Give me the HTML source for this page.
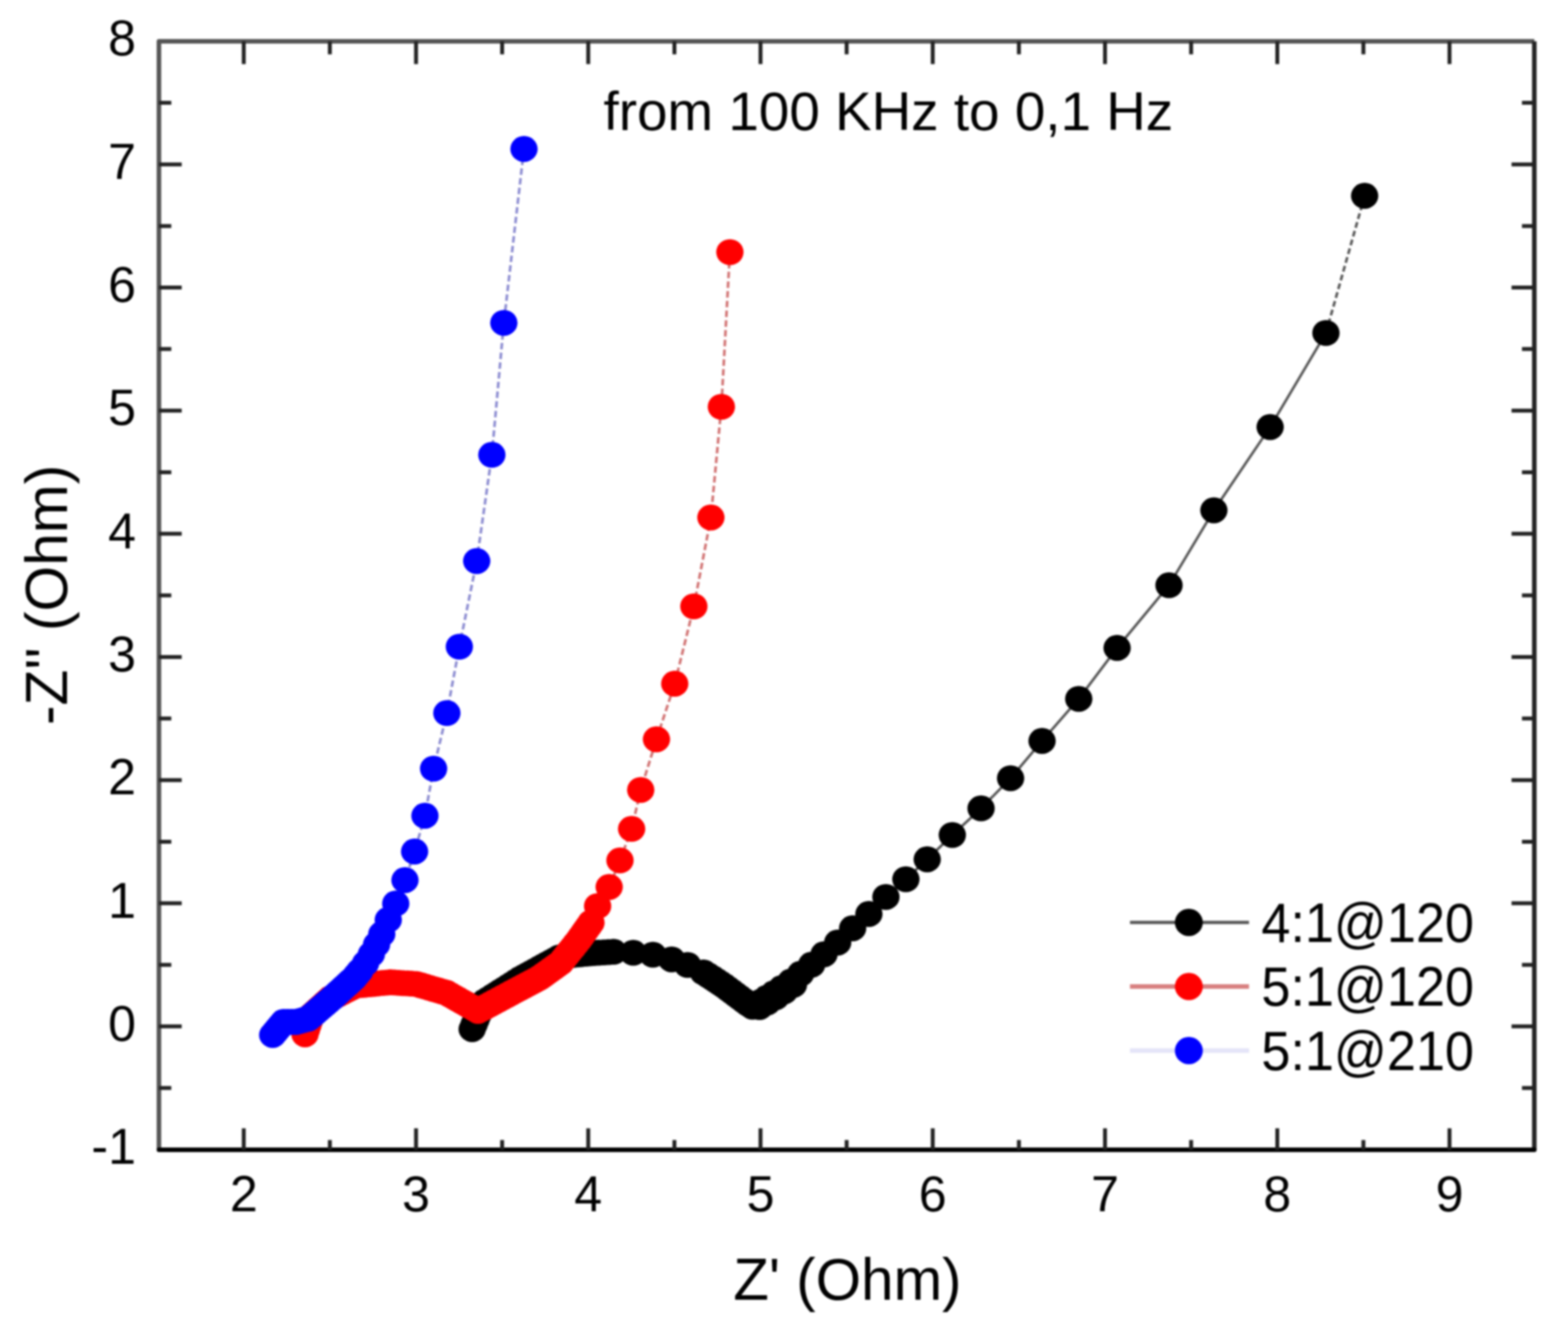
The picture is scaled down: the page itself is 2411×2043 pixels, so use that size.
<!DOCTYPE html>
<html><head><meta charset="utf-8"><title>Nyquist plot</title>
<style>html,body{margin:0;padding:0;background:#fff;}body{width:2411px;height:2043px;overflow:hidden;}svg{display:block;filter:blur(1.8px);}</style>
</head><body>
<svg width="2411" height="2043" viewBox="0 0 2411 2043" font-family="'Liberation Sans', Arial, sans-serif" fill="#000">
<rect width="2411" height="2043" fill="#fff"/>
<path d="M2098.3,301 L2038.8,511.9" fill="none" stroke="#555" stroke-width="4" stroke-dasharray="9 5"/>
<path d="M2038.8,511.9 L1953.0,656.5 L1866.5,784.5 L1797.5,899.7 L1717.7,996.0 L1658.7,1074.3 L1602.3,1139.0 L1553.9,1196.3 L1508.5,1242.7 L1464.3,1283.6 L1425.7,1321.0 L1392.9,1351.6 L1362.2,1378.8 L1336.0,1405.0 L1336.0,1405.0 L1311.0,1427.0 L1288.0,1449.0 L1267.0,1467.0 L1248.0,1483.0 L1231.0,1497.0 L1216.0,1509.0 L1202.0,1519.0 L1190.0,1527.0 L1179.0,1534.0 L1170.0,1540.0 L1162.0,1545.0 L1157.0,1547.5 L1150.0,1543.0 L1144.0,1538.5 L1138.0,1534.0 L1132.0,1529.5 L1126.0,1525.0 L1120.0,1520.5 L1114.0,1516.0 L1108.0,1512.0 L1102.0,1508.0 L1096.0,1504.0 L1089.0,1499.5 L1081.7,1494.9 L1057.2,1483.4 L1032.7,1474.8 L1003.9,1467.6 L973.7,1464.7 L943.4,1463.2" fill="none" stroke="#555" stroke-width="4" />
<g fill="#000"><ellipse cx="2098.3" cy="301.0" rx="21" ry="19.9"/><ellipse cx="2038.8" cy="511.9" rx="21" ry="19.9"/><ellipse cx="1953.0" cy="656.5" rx="21" ry="19.9"/><ellipse cx="1866.5" cy="784.5" rx="21" ry="19.9"/><ellipse cx="1797.5" cy="899.7" rx="21" ry="19.9"/><ellipse cx="1717.7" cy="996.0" rx="21" ry="19.9"/><ellipse cx="1658.7" cy="1074.3" rx="21" ry="19.9"/><ellipse cx="1602.3" cy="1139.0" rx="21" ry="19.9"/><ellipse cx="1553.9" cy="1196.3" rx="21" ry="19.9"/><ellipse cx="1508.5" cy="1242.7" rx="21" ry="19.9"/><ellipse cx="1464.3" cy="1283.6" rx="21" ry="19.9"/><ellipse cx="1425.7" cy="1321.0" rx="21" ry="19.9"/><ellipse cx="1392.9" cy="1351.6" rx="21" ry="19.9"/><ellipse cx="1362.2" cy="1378.8" rx="21" ry="19.9"/><ellipse cx="1336.0" cy="1405.0" rx="21" ry="19.9"/><ellipse cx="1311.0" cy="1427.0" rx="21" ry="19.9"/><ellipse cx="1288.0" cy="1449.0" rx="21" ry="19.9"/><ellipse cx="1267.0" cy="1467.0" rx="21" ry="19.9"/><ellipse cx="1248.0" cy="1483.0" rx="21" ry="19.9"/><ellipse cx="1231.0" cy="1497.0" rx="21" ry="19.9"/><ellipse cx="1216.0" cy="1509.0" rx="21" ry="19.9"/><ellipse cx="1202.0" cy="1519.0" rx="21" ry="19.9"/><ellipse cx="1190.0" cy="1527.0" rx="21" ry="19.9"/><ellipse cx="1179.0" cy="1534.0" rx="21" ry="19.9"/><ellipse cx="1170.0" cy="1540.0" rx="21" ry="19.9"/><ellipse cx="1162.0" cy="1545.0" rx="21" ry="19.9"/><ellipse cx="1157.0" cy="1547.5" rx="21" ry="19.9"/><ellipse cx="1150.0" cy="1543.0" rx="21" ry="19.9"/><ellipse cx="1144.0" cy="1538.5" rx="21" ry="19.9"/><ellipse cx="1138.0" cy="1534.0" rx="21" ry="19.9"/><ellipse cx="1132.0" cy="1529.5" rx="21" ry="19.9"/><ellipse cx="1126.0" cy="1525.0" rx="21" ry="19.9"/><ellipse cx="1120.0" cy="1520.5" rx="21" ry="19.9"/><ellipse cx="1114.0" cy="1516.0" rx="21" ry="19.9"/><ellipse cx="1108.0" cy="1512.0" rx="21" ry="19.9"/><ellipse cx="1102.0" cy="1508.0" rx="21" ry="19.9"/><ellipse cx="1096.0" cy="1504.0" rx="21" ry="19.9"/><ellipse cx="1089.0" cy="1499.5" rx="21" ry="19.9"/><ellipse cx="1081.7" cy="1494.9" rx="21" ry="19.9"/><ellipse cx="1057.2" cy="1483.4" rx="21" ry="19.9"/><ellipse cx="1032.7" cy="1474.8" rx="21" ry="19.9"/><ellipse cx="1003.9" cy="1467.6" rx="21" ry="19.9"/><ellipse cx="973.7" cy="1464.7" rx="21" ry="19.9"/><ellipse cx="943.4" cy="1463.2" rx="21" ry="19.9"/><ellipse cx="935.5" cy="1463.7" rx="21" ry="19.9"/><ellipse cx="927.7" cy="1464.1" rx="21" ry="19.9"/><ellipse cx="919.9" cy="1464.5" rx="21" ry="19.9"/><ellipse cx="912.0" cy="1465.0" rx="21" ry="19.9"/><ellipse cx="905.6" cy="1465.6" rx="21" ry="19.9"/><ellipse cx="899.2" cy="1466.2" rx="21" ry="19.9"/><ellipse cx="892.8" cy="1466.8" rx="21" ry="19.9"/><ellipse cx="886.4" cy="1467.4" rx="21" ry="19.9"/><ellipse cx="880.0" cy="1468.0" rx="21" ry="19.9"/><ellipse cx="873.3" cy="1469.3" rx="21" ry="19.9"/><ellipse cx="866.7" cy="1470.7" rx="21" ry="19.9"/><ellipse cx="860.0" cy="1472.0" rx="21" ry="19.9"/><ellipse cx="854.0" cy="1475.3" rx="21" ry="19.9"/><ellipse cx="848.0" cy="1478.6" rx="21" ry="19.9"/><ellipse cx="842.0" cy="1481.9" rx="21" ry="19.9"/><ellipse cx="836.0" cy="1485.2" rx="21" ry="19.9"/><ellipse cx="830.0" cy="1488.5" rx="21" ry="19.9"/><ellipse cx="824.0" cy="1491.8" rx="21" ry="19.9"/><ellipse cx="818.0" cy="1495.1" rx="21" ry="19.9"/><ellipse cx="812.0" cy="1498.4" rx="21" ry="19.9"/><ellipse cx="806.0" cy="1501.7" rx="21" ry="19.9"/><ellipse cx="800.0" cy="1505.0" rx="21" ry="19.9"/><ellipse cx="793.9" cy="1508.9" rx="21" ry="19.9"/><ellipse cx="787.8" cy="1512.8" rx="21" ry="19.9"/><ellipse cx="781.7" cy="1516.7" rx="21" ry="19.9"/><ellipse cx="775.6" cy="1520.6" rx="21" ry="19.9"/><ellipse cx="769.4" cy="1524.4" rx="21" ry="19.9"/><ellipse cx="763.3" cy="1528.3" rx="21" ry="19.9"/><ellipse cx="757.2" cy="1532.2" rx="21" ry="19.9"/><ellipse cx="751.1" cy="1536.1" rx="21" ry="19.9"/><ellipse cx="745.0" cy="1540.0" rx="21" ry="19.9"/><ellipse cx="741.7" cy="1546.7" rx="21" ry="19.9"/><ellipse cx="738.3" cy="1553.3" rx="21" ry="19.9"/><ellipse cx="735.0" cy="1560.0" rx="21" ry="19.9"/><ellipse cx="732.0" cy="1567.3" rx="21" ry="19.9"/><ellipse cx="729.0" cy="1574.7" rx="21" ry="19.9"/><ellipse cx="726.0" cy="1582.0" rx="21" ry="19.9"/><ellipse cx="1168.0" cy="1548.0" rx="21" ry="19.9"/><ellipse cx="1180.0" cy="1541.0" rx="21" ry="19.9"/><ellipse cx="1193.0" cy="1533.0" rx="21" ry="19.9"/><ellipse cx="1206.0" cy="1524.0" rx="21" ry="19.9"/><ellipse cx="1220.0" cy="1514.0" rx="21" ry="19.9"/></g>
<path d="M1122.3,387.6 L1109.2,625.4 L1093.1,795.5 L1066.9,932.1 L1037.5,1051.0 L1009.4,1136.5 L985.2,1214.3 L971.2,1274.2 L953.3,1322.7 L936.7,1363.5 L918.9,1392.9 L908.7,1418.4" fill="none" stroke="#d07070" stroke-width="4" stroke-dasharray="10 5"/>
<g fill="#ff0000"><ellipse cx="1122.3" cy="387.6" rx="21" ry="19.9"/><ellipse cx="1109.2" cy="625.4" rx="21" ry="19.9"/><ellipse cx="1093.1" cy="795.5" rx="21" ry="19.9"/><ellipse cx="1066.9" cy="932.1" rx="21" ry="19.9"/><ellipse cx="1037.5" cy="1051.0" rx="21" ry="19.9"/><ellipse cx="1009.4" cy="1136.5" rx="21" ry="19.9"/><ellipse cx="985.2" cy="1214.3" rx="21" ry="19.9"/><ellipse cx="971.2" cy="1274.2" rx="21" ry="19.9"/><ellipse cx="953.3" cy="1322.7" rx="21" ry="19.9"/><ellipse cx="936.7" cy="1363.5" rx="21" ry="19.9"/><ellipse cx="918.9" cy="1392.9" rx="21" ry="19.9"/><ellipse cx="908.7" cy="1418.4" rx="21" ry="19.9"/><ellipse cx="905.0" cy="1423.7" rx="21" ry="19.9"/><ellipse cx="901.2" cy="1429.0" rx="21" ry="19.9"/><ellipse cx="897.5" cy="1434.4" rx="21" ry="19.9"/><ellipse cx="893.7" cy="1439.7" rx="21" ry="19.9"/><ellipse cx="890.0" cy="1445.0" rx="21" ry="19.9"/><ellipse cx="885.3" cy="1450.8" rx="21" ry="19.9"/><ellipse cx="880.7" cy="1456.7" rx="21" ry="19.9"/><ellipse cx="876.0" cy="1462.5" rx="21" ry="19.9"/><ellipse cx="871.3" cy="1468.3" rx="21" ry="19.9"/><ellipse cx="866.7" cy="1474.2" rx="21" ry="19.9"/><ellipse cx="862.0" cy="1480.0" rx="21" ry="19.9"/><ellipse cx="856.7" cy="1483.8" rx="21" ry="19.9"/><ellipse cx="851.3" cy="1487.7" rx="21" ry="19.9"/><ellipse cx="846.0" cy="1491.5" rx="21" ry="19.9"/><ellipse cx="840.7" cy="1495.3" rx="21" ry="19.9"/><ellipse cx="835.3" cy="1499.2" rx="21" ry="19.9"/><ellipse cx="830.0" cy="1503.0" rx="21" ry="19.9"/><ellipse cx="823.9" cy="1506.3" rx="21" ry="19.9"/><ellipse cx="817.7" cy="1509.6" rx="21" ry="19.9"/><ellipse cx="811.6" cy="1512.9" rx="21" ry="19.9"/><ellipse cx="805.4" cy="1516.1" rx="21" ry="19.9"/><ellipse cx="799.3" cy="1519.4" rx="21" ry="19.9"/><ellipse cx="793.1" cy="1522.7" rx="21" ry="19.9"/><ellipse cx="787.0" cy="1526.0" rx="21" ry="19.9"/><ellipse cx="780.5" cy="1529.5" rx="21" ry="19.9"/><ellipse cx="774.0" cy="1533.0" rx="21" ry="19.9"/><ellipse cx="767.5" cy="1536.5" rx="21" ry="19.9"/><ellipse cx="761.0" cy="1540.0" rx="21" ry="19.9"/><ellipse cx="754.5" cy="1543.5" rx="21" ry="19.9"/><ellipse cx="748.0" cy="1547.0" rx="21" ry="19.9"/><ellipse cx="741.5" cy="1550.5" rx="21" ry="19.9"/><ellipse cx="735.0" cy="1554.0" rx="21" ry="19.9"/><ellipse cx="728.7" cy="1550.3" rx="21" ry="19.9"/><ellipse cx="722.3" cy="1546.7" rx="21" ry="19.9"/><ellipse cx="716.0" cy="1543.0" rx="21" ry="19.9"/><ellipse cx="710.0" cy="1539.6" rx="21" ry="19.9"/><ellipse cx="704.0" cy="1536.2" rx="21" ry="19.9"/><ellipse cx="698.0" cy="1532.8" rx="21" ry="19.9"/><ellipse cx="692.0" cy="1529.4" rx="21" ry="19.9"/><ellipse cx="686.0" cy="1526.0" rx="21" ry="19.9"/><ellipse cx="679.4" cy="1524.1" rx="21" ry="19.9"/><ellipse cx="672.9" cy="1522.2" rx="21" ry="19.9"/><ellipse cx="666.3" cy="1520.3" rx="21" ry="19.9"/><ellipse cx="659.7" cy="1518.3" rx="21" ry="19.9"/><ellipse cx="653.1" cy="1516.4" rx="21" ry="19.9"/><ellipse cx="646.6" cy="1514.5" rx="21" ry="19.9"/><ellipse cx="640.0" cy="1512.6" rx="21" ry="19.9"/><ellipse cx="633.3" cy="1512.2" rx="21" ry="19.9"/><ellipse cx="626.7" cy="1511.7" rx="21" ry="19.9"/><ellipse cx="620.0" cy="1511.3" rx="21" ry="19.9"/><ellipse cx="613.3" cy="1510.9" rx="21" ry="19.9"/><ellipse cx="606.7" cy="1510.4" rx="21" ry="19.9"/><ellipse cx="600.0" cy="1510.0" rx="21" ry="19.9"/><ellipse cx="593.4" cy="1510.6" rx="21" ry="19.9"/><ellipse cx="586.8" cy="1511.2" rx="21" ry="19.9"/><ellipse cx="580.1" cy="1511.9" rx="21" ry="19.9"/><ellipse cx="573.5" cy="1512.5" rx="21" ry="19.9"/><ellipse cx="566.9" cy="1513.1" rx="21" ry="19.9"/><ellipse cx="560.2" cy="1513.8" rx="21" ry="19.9"/><ellipse cx="553.6" cy="1514.4" rx="21" ry="19.9"/><ellipse cx="547.0" cy="1515.0" rx="21" ry="19.9"/><ellipse cx="540.5" cy="1518.3" rx="21" ry="19.9"/><ellipse cx="534.0" cy="1521.7" rx="21" ry="19.9"/><ellipse cx="527.5" cy="1525.0" rx="21" ry="19.9"/><ellipse cx="521.0" cy="1528.3" rx="21" ry="19.9"/><ellipse cx="514.5" cy="1531.7" rx="21" ry="19.9"/><ellipse cx="508.0" cy="1535.0" rx="21" ry="19.9"/><ellipse cx="503.0" cy="1539.5" rx="21" ry="19.9"/><ellipse cx="498.0" cy="1544.0" rx="21" ry="19.9"/><ellipse cx="493.0" cy="1548.5" rx="21" ry="19.9"/><ellipse cx="488.0" cy="1553.0" rx="21" ry="19.9"/><ellipse cx="483.0" cy="1557.5" rx="21" ry="19.9"/><ellipse cx="478.0" cy="1562.0" rx="21" ry="19.9"/><ellipse cx="475.8" cy="1569.0" rx="21" ry="19.9"/><ellipse cx="473.5" cy="1576.0" rx="21" ry="19.9"/><ellipse cx="471.2" cy="1583.0" rx="21" ry="19.9"/><ellipse cx="469.0" cy="1590.0" rx="21" ry="19.9"/></g>
<path d="M805.7,229.0 L774.7,496.3 L756.3,699.2 L733.0,862.5 L706.3,994.1 L687.1,1096.2 L666.7,1181.6 L653.4,1254.0 L637.5,1309.0 L622.7,1353.0 L608.5,1389.0 L597.0,1414.0 L587.0,1436.0 L579.0,1452.0 L571.0,1467.0 L562.0,1481.0 L553.0,1493.0" fill="none" stroke="#8a8ad0" stroke-width="4" stroke-dasharray="10 5"/>
<g fill="#0000ff"><ellipse cx="805.7" cy="229.0" rx="21" ry="19.9"/><ellipse cx="774.7" cy="496.3" rx="21" ry="19.9"/><ellipse cx="756.3" cy="699.2" rx="21" ry="19.9"/><ellipse cx="733.0" cy="862.5" rx="21" ry="19.9"/><ellipse cx="706.3" cy="994.1" rx="21" ry="19.9"/><ellipse cx="687.1" cy="1096.2" rx="21" ry="19.9"/><ellipse cx="666.7" cy="1181.6" rx="21" ry="19.9"/><ellipse cx="653.4" cy="1254.0" rx="21" ry="19.9"/><ellipse cx="637.5" cy="1309.0" rx="21" ry="19.9"/><ellipse cx="622.7" cy="1353.0" rx="21" ry="19.9"/><ellipse cx="608.5" cy="1389.0" rx="21" ry="19.9"/><ellipse cx="597.0" cy="1414.0" rx="21" ry="19.9"/><ellipse cx="587.0" cy="1436.0" rx="21" ry="19.9"/><ellipse cx="579.0" cy="1452.0" rx="21" ry="19.9"/><ellipse cx="571.0" cy="1467.0" rx="21" ry="19.9"/><ellipse cx="562.0" cy="1481.0" rx="21" ry="19.9"/><ellipse cx="553.0" cy="1493.0" rx="21" ry="19.9"/><ellipse cx="548.5" cy="1498.5" rx="21" ry="19.9"/><ellipse cx="544.0" cy="1504.0" rx="21" ry="19.9"/><ellipse cx="539.1" cy="1508.4" rx="21" ry="19.9"/><ellipse cx="534.3" cy="1512.9" rx="21" ry="19.9"/><ellipse cx="529.4" cy="1517.3" rx="21" ry="19.9"/><ellipse cx="524.6" cy="1521.7" rx="21" ry="19.9"/><ellipse cx="519.7" cy="1526.1" rx="21" ry="19.9"/><ellipse cx="514.9" cy="1530.6" rx="21" ry="19.9"/><ellipse cx="510.0" cy="1535.0" rx="21" ry="19.9"/><ellipse cx="504.9" cy="1539.4" rx="21" ry="19.9"/><ellipse cx="499.7" cy="1543.9" rx="21" ry="19.9"/><ellipse cx="494.6" cy="1548.3" rx="21" ry="19.9"/><ellipse cx="489.4" cy="1552.7" rx="21" ry="19.9"/><ellipse cx="484.3" cy="1557.1" rx="21" ry="19.9"/><ellipse cx="479.1" cy="1561.6" rx="21" ry="19.9"/><ellipse cx="474.0" cy="1566.0" rx="21" ry="19.9"/><ellipse cx="467.7" cy="1567.7" rx="21" ry="19.9"/><ellipse cx="461.3" cy="1569.3" rx="21" ry="19.9"/><ellipse cx="455.0" cy="1571.0" rx="21" ry="19.9"/><ellipse cx="448.7" cy="1571.0" rx="21" ry="19.9"/><ellipse cx="442.3" cy="1571.0" rx="21" ry="19.9"/><ellipse cx="436.0" cy="1571.0" rx="21" ry="19.9"/><ellipse cx="431.8" cy="1576.0" rx="21" ry="19.9"/><ellipse cx="427.6" cy="1581.0" rx="21" ry="19.9"/><ellipse cx="423.5" cy="1586.0" rx="21" ry="19.9"/><ellipse cx="419.3" cy="1591.0" rx="21" ry="19.9"/></g>
<path d="M244.4,1767.5V63.4H2359.2" stroke="#555" stroke-width="7" fill="none" stroke-linejoin="round"/><path d="M2359.2,63.4V1767.5" stroke="#222" stroke-width="7" fill="none"/><path d="M244.4,1767.5H2359.2" stroke="#000" stroke-width="7" fill="none" stroke-linecap="round"/>
<path d="M374.8,1767.5V1734.5M374.8,63.4V98.4M639.7,1767.5V1734.5M639.7,63.4V98.4M904.5,1767.5V1734.5M904.5,63.4V98.4M1169.4,1767.5V1734.5M1169.4,63.4V98.4M1434.2,1767.5V1734.5M1434.2,63.4V98.4M1699.1,1767.5V1734.5M1699.1,63.4V98.4M1964.0,1767.5V1734.5M1964.0,63.4V98.4M2228.8,1767.5V1734.5M2228.8,63.4V98.4M507.2,1767.5V1752.5M507.2,63.4V83.4M772.1,1767.5V1752.5M772.1,63.4V83.4M1037.0,1767.5V1752.5M1037.0,63.4V83.4M1301.8,1767.5V1752.5M1301.8,63.4V83.4M1566.7,1767.5V1752.5M1566.7,63.4V83.4M1831.5,1767.5V1752.5M1831.5,63.4V83.4M2096.4,1767.5V1752.5M2096.4,63.4V83.4M244.4,1577.8H279.4M2359.2,1577.8H2324.2M244.4,1388.5H279.4M2359.2,1388.5H2324.2M244.4,1199.2H279.4M2359.2,1199.2H2324.2M244.4,1009.9H279.4M2359.2,1009.9H2324.2M244.4,820.6H279.4M2359.2,820.6H2324.2M244.4,631.3H279.4M2359.2,631.3H2324.2M244.4,442.0H279.4M2359.2,442.0H2324.2M244.4,252.7H279.4M2359.2,252.7H2324.2M244.4,1672.5H263.4M2359.2,1672.5H2340.2M244.4,1483.2H263.4M2359.2,1483.2H2340.2M244.4,1293.9H263.4M2359.2,1293.9H2340.2M244.4,1104.6H263.4M2359.2,1104.6H2340.2M244.4,915.2H263.4M2359.2,915.2H2340.2M244.4,726.0H263.4M2359.2,726.0H2340.2M244.4,536.6H263.4M2359.2,536.6H2340.2M244.4,347.4H263.4M2359.2,347.4H2340.2M244.4,158.1H263.4M2359.2,158.1H2340.2" stroke="#222" stroke-width="6" fill="none"/>
<g font-size="77"><text x="209" y="1789.1" text-anchor="end">-1</text><text x="209" y="1599.8" text-anchor="end">0</text><text x="209" y="1410.5" text-anchor="end">1</text><text x="209" y="1221.2" text-anchor="end">2</text><text x="209" y="1031.9" text-anchor="end">3</text><text x="209" y="842.6" text-anchor="end">4</text><text x="209" y="653.3" text-anchor="end">5</text><text x="209" y="464.0" text-anchor="end">6</text><text x="209" y="274.7" text-anchor="end">7</text><text x="209" y="85.4" text-anchor="end">8</text><text x="374.8" y="1862" text-anchor="middle">2</text><text x="639.7" y="1862" text-anchor="middle">3</text><text x="904.5" y="1862" text-anchor="middle">4</text><text x="1169.4" y="1862" text-anchor="middle">5</text><text x="1434.2" y="1862" text-anchor="middle">6</text><text x="1699.1" y="1862" text-anchor="middle">7</text><text x="1964.0" y="1862" text-anchor="middle">8</text><text x="2228.8" y="1862" text-anchor="middle">9</text></g>
<text x="1127.5" y="1998" font-size="90.5" textLength="351" lengthAdjust="spacingAndGlyphs">Z' (Ohm)</text><text transform="translate(102.5,1114.5) rotate(-90)" x="0" y="0" font-size="90" textLength="400" lengthAdjust="spacingAndGlyphs">-Z'' (Ohm)</text><text x="928" y="200" font-size="84" textLength="876" lengthAdjust="spacingAndGlyphs">from 100 KHz to 0,1 Hz</text>
<path d="M1737.5,1418.0H1920.5" stroke="#555" stroke-width="5"/><ellipse cx="1828" cy="1418.0" rx="21.5" ry="21" fill="#000"/><text x="1939.5" y="1447.5" font-size="86" textLength="327" lengthAdjust="spacingAndGlyphs">4:1@120</text><path d="M1737.5,1516.5H1920.5" stroke="#d88080" stroke-width="7"/><ellipse cx="1828" cy="1516.5" rx="21.5" ry="21" fill="#ff0000"/><text x="1939.5" y="1546.0" font-size="86" textLength="327" lengthAdjust="spacingAndGlyphs">5:1@120</text><path d="M1737.5,1615.0H1920.5" stroke="#e4e4f8" stroke-width="7"/><ellipse cx="1828" cy="1615.0" rx="21.5" ry="21" fill="#0000ff"/><text x="1939.5" y="1644.5" font-size="86" textLength="327" lengthAdjust="spacingAndGlyphs">5:1@210</text>
</svg>
</body></html>
